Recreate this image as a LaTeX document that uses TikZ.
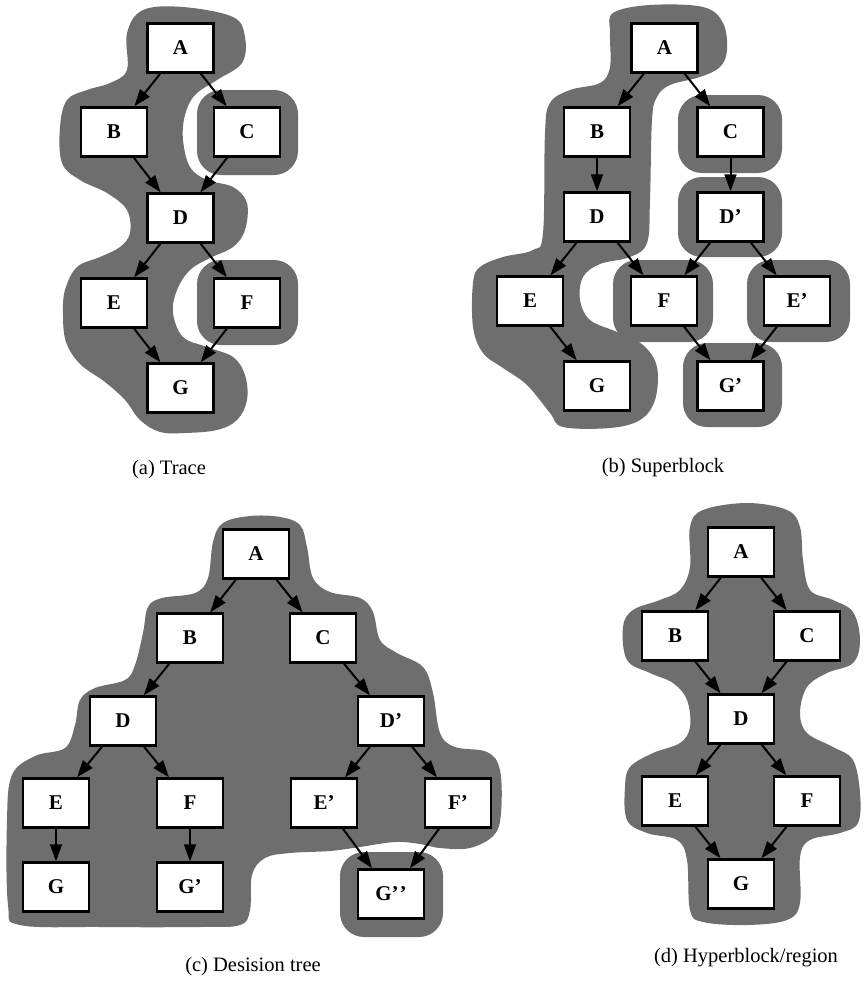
\documentclass[tikz,border=0pt]{standalone}
\usepackage{fontspec}
\setmainfont{Liberation Serif}
\usetikzlibrary{arrows.meta}
\definecolor{blobc}{gray}{0.43}
\begin{document}
\begin{tikzpicture}[x=1pt,y=-1pt,
  blk/.style={draw=black, line width=2.5pt, fill=white, minimum width=66pt, minimum height=49pt, inner sep=0pt, font=\fontsize{21}{21}\selectfont\bfseries},
  edge/.style={line width=2pt, -{Triangle[length=17pt,width=12pt]}},
  blob/.style={fill=blobc, draw=none},
  rblob/.style={fill=blobc, draw=none, rounded corners=24pt},
  captxt/.style={font=\fontsize{20.5}{20.5}\selectfont, inner sep=0pt},
]
\useasboundingbox (0,0) rectangle (867,993);

% ---------------- blobs ----------------
% (a)
\fill[blob] plot[smooth cycle, tension=0.6] coordinates {
(143,10) (183,7) (233,17) (245,37) (242,63) (217,80) (195,95) (185,115) (183,140) (190,167) (207,180) (233,187) (247,203) (245,230) (233,247) (210,258) (190,270) (177,290) (173,313) (183,337) (207,347) (233,357) (245,375) (247,400) (237,420) (217,430) (185,433) (160,432) (140,420) (125,400) (105,382) (80,364) (66,342) (63,315) (65,290) (77,267) (100,257) (120,247) (130,233) (127,210) (107,193) (80,180) (62,163) (60,127) (67,100) (87,90) (110,83) (127,70) (127,33)};
\fill[rblob] (197,90) rectangle (298,175);
\fill[rblob] (197,260) rectangle (298,345);
% (b)
\fill[blob] plot[smooth cycle, tension=0.6] coordinates {
(613,13) (650,5) (703,7) (723,23) (727,50) (720,67) (700,77) (670,85) (657,97) (652,120) (650,200) (647,243) (630,257) (600,264) (583,277) (580,300) (590,320) (617,332) (643,345) (657,367) (655,400) (640,420) (610,428) (563,427) (550,413) (527,385) (503,368) (483,353) (473,327) (473,283) (480,267) (503,257) (533,250) (543,233) (545,133) (550,103) (570,90) (600,83) (610,67) (610,33)};
\fill[rblob] (678,95) rectangle (782,173);
\fill[rblob] (678,177) rectangle (782,257);
\fill[rblob] (613,260) rectangle (713,342);
\fill[rblob] (747,260) rectangle (850,342);
\fill[rblob] (683,343) rectangle (782,427);
% (c)
\fill[blob] plot[smooth cycle, tension=0.6] coordinates {
(223,523) (250,516) (280,517) (300,525) (307,547) (313,578) (330,592) (360,598) (373,612) (380,640) (397,653) (423,667) (433,693) (440,733) (455,747) (487,752) (500,770) (501,813) (494,835) (470,848) (440,848) (420,844) (395,842) (360,847) (330,851) (290,853) (265,858) (252,875) (250,910) (240,925) (200,927) (100,927) (20,925) (8,905) (7,820) (12,775) (35,756) (65,748) (75,725) (80,700) (95,688) (125,680) (135,665) (143,633) (148,607) (162,598) (195,593) (208,578) (213,542)};
\fill[rblob] (340,852) rectangle (443,937);
% (d)
\fill[blob] plot[smooth cycle, tension=0.6] coordinates {
(703,510) (747,503) (787,510) (800,527) (803,560) (810,590) (833,600) (853,612) (860,640) (853,663) (827,673) (807,687) (800,713) (807,733) (833,747) (853,760) (860,793) (858,823) (840,833) (810,840) (800,857) (800,903) (787,920) (747,925) (703,922) (690,910) (687,860) (677,840) (647,833) (627,820) (625,787) (630,767) (653,753) (680,743) (690,727) (687,700) (673,683) (650,673) (627,660) (623,627) (633,610) (660,600) (680,590) (690,567) (690,527)};

% ---------------- (a) Trace ----------------
\node[blk] (aA) at (180.5,48) {A};
\node[blk] (aB) at (114,132) {B};
\node[blk] (aC) at (247,132) {C};
\node[blk] (aD) at (180.5,218) {D};
\node[blk] (aE) at (114,303) {E};
\node[blk] (aF) at (247,303) {F};
\node[blk] (aG) at (180.5,388) {G};
\draw[edge] (aA) -- (aB);
\draw[edge] (aA) -- (aC);
\draw[edge] (aB) -- (aD);
\draw[edge] (aC) -- (aD);
\draw[edge] (aD) -- (aE);
\draw[edge] (aD) -- (aF);
\draw[edge] (aE) -- (aG);
\draw[edge] (aF) -- (aG);
\node[captxt] (capa) at (169,470) {(a) Trace};

% ---------------- (b) Superblock ----------------
\node[blk] (bA) at (664.5,48) {A};
\node[blk] (bB) at (597,132) {B};
\node[blk] (bC) at (730.5,132) {C};
\node[blk] (bD) at (597,217) {D};
\node[blk] (bDp) at (730.5,217) {D’};
\node[blk] (bE) at (530,301) {E};
\node[blk] (bF) at (664,301) {F};
\node[blk] (bEp) at (797,301) {E’};
\node[blk] (bG) at (597,386) {G};
\node[blk] (bGp) at (730.5,386) {G’};
\draw[edge] (bA) -- (bB);
\draw[edge] (bA) -- (bC);
\draw[edge] (bB) -- (bD);
\draw[edge] (bC) -- (bDp);
\draw[edge] (bD) -- (bE);
\draw[edge] (bD) -- (bF);
\draw[edge] (bDp) -- (bF);
\draw[edge] (bDp) -- (bEp);
\draw[edge] (bE) -- (bG);
\draw[edge] (bF) -- (bGp);
\draw[edge] (bEp) -- (bGp);
\node[captxt] (capb) at (663,468) {(b) Superblock};

% ---------------- (c) Desision tree ----------------
\node[blk] (cA) at (256,554) {A};
\node[blk] (cB) at (190,638) {B};
\node[blk] (cC) at (323,638) {C};
\node[blk] (cD) at (123,721) {D};
\node[blk] (cDp) at (391,721) {D’};
\node[blk] (cE) at (56,803) {E};
\node[blk] (cF) at (190,803) {F};
\node[blk] (cEp) at (324,803) {E’};
\node[blk] (cFp) at (458,803) {F’};
\node[blk] (cG) at (56,887) {G};
\node[blk] (cGp) at (190,887) {G’};
\node[blk] (cGpp) at (391,894) {G’\kern1pt’};
\draw[edge] (cA) -- (cB);
\draw[edge] (cA) -- (cC);
\draw[edge] (cB) -- (cD);
\draw[edge] (cC) -- (cDp);
\draw[edge] (cD) -- (cE);
\draw[edge] (cD) -- (cF);
\draw[edge] (cDp) -- (cEp);
\draw[edge] (cDp) -- (cFp);
\draw[edge] (cE) -- (cG);
\draw[edge] (cF) -- (cGp);
\draw[edge] (cEp) -- (cGpp);
\draw[edge] (cFp) -- (cGpp);
\node[captxt] (capc) at (253,967) {(c) Desision tree};

% ---------------- (d) Hyperblock/region ----------------
\node[blk] (dA) at (741,552) {A};
\node[blk] (dB) at (675,636) {B};
\node[blk] (dC) at (807,636) {C};
\node[blk] (dD) at (741,719) {D};
\node[blk] (dE) at (675,801) {E};
\node[blk] (dF) at (807,801) {F};
\node[blk] (dG) at (741,884) {G};
\draw[edge] (dA) -- (dB);
\draw[edge] (dA) -- (dC);
\draw[edge] (dB) -- (dD);
\draw[edge] (dC) -- (dD);
\draw[edge] (dD) -- (dE);
\draw[edge] (dD) -- (dF);
\draw[edge] (dE) -- (dG);
\draw[edge] (dF) -- (dG);
\node[captxt] (capd) at (746,958) {(d) Hyperblock/region};
\end{tikzpicture}
\end{document}
